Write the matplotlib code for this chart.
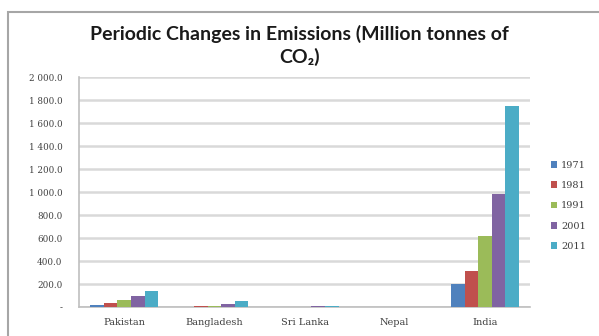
import numpy as np
import matplotlib.pyplot as plt
from matplotlib.patches import Rectangle
from matplotlib.ticker import FuncFormatter

countries = ['Pakistan', 'Bangladesh', 'Sri Lanka', 'Nepal', 'India']
years = ['1971', '1981', '1991', '2001', '2011']
colors = ['#4F81BD', '#C0504D', '#9BBB59', '#8064A2', '#4BACC6']

# emissions per country, one list per year
e1971 = [18, 3, 3, 0.2, 200]
e1981 = [32, 6, 4, 0.5, 310]
e1991 = [62, 13, 4, 0.9, 620]
e2001 = [100, 24, 10, 3, 980]
e2011 = [135, 50, 13, 4, 1745]
series = [e1971, e1981, e1991, e2001, e2011]

plt.rcParams['font.family'] = ['Lato', 'DejaVu Sans']

fig = plt.figure(figsize=(5.99, 3.36), dpi=100)

# outer chart frame
fig.patches.append(Rectangle((0.0134, -0.05), 1.1, 1.014, transform=fig.transFigure,
                             fill=False, edgecolor='#A6A6A6', linewidth=1.5))

ax = fig.add_axes([0.1319, 0.0863, 0.753, 0.6845])

x = np.arange(len(countries))
w = 0.151
for i, (vals, yr, c) in enumerate(zip(series, years, colors)):
    ax.bar(x + (i - 2) * w, vals, width=w, color=c, label=yr, zorder=3)

ax.set_xlim(-0.5, len(countries) - 0.5)
ax.set_ylim(0, 2000)
ax.set_yticks(np.arange(0, 2001, 200))


def fmt(v, pos):
    if v == 0:
        return '-'
    return f'{v:,.1f}'.replace(',', ' ')


ax.yaxis.set_major_formatter(FuncFormatter(fmt))
ax.set_xticks(x)
ax.set_xticklabels(countries, family=['DejaVu Serif'])
for lbl in ax.get_yticklabels():
    lbl.set_family(['DejaVu Serif'])
ax.tick_params(axis='y', labelsize=6.3, length=0, pad=12, colors='#404040')
ax.tick_params(axis='x', labelsize=7, length=0, pad=8, colors='#404040')
ax.grid(axis='y', color='#D9D9D9', linewidth=1.8, zorder=0)
for s in ['top', 'right']:
    ax.spines[s].set_visible(False)
for s in ['left', 'bottom']:
    ax.spines[s].set_color('#BFBFBF')
    ax.spines[s].set_linewidth(1.2)

fig.text(0.5, 0.9, 'Periodic Changes in Emissions (Million tonnes of',
         ha='center', va='center', fontsize=14, fontweight='bold', color='#1a1a1a')
fig.text(0.5, 0.83, 'CO₂)', ha='center', va='center', fontsize=14, fontweight='bold',
         color='#1a1a1a')

leg = fig.legend(loc='upper left', bbox_to_anchor=(0.911, 0.535), frameon=False,
                 prop={'family': ['DejaVu Serif'], 'size': 7},
                 handlelength=0.7, handleheight=0.7, handletextpad=0.4,
                 labelspacing=1.15, borderpad=0)
for t in leg.get_texts():
    t.set_color('#404040')

fig.savefig('out.png', dpi=100)
